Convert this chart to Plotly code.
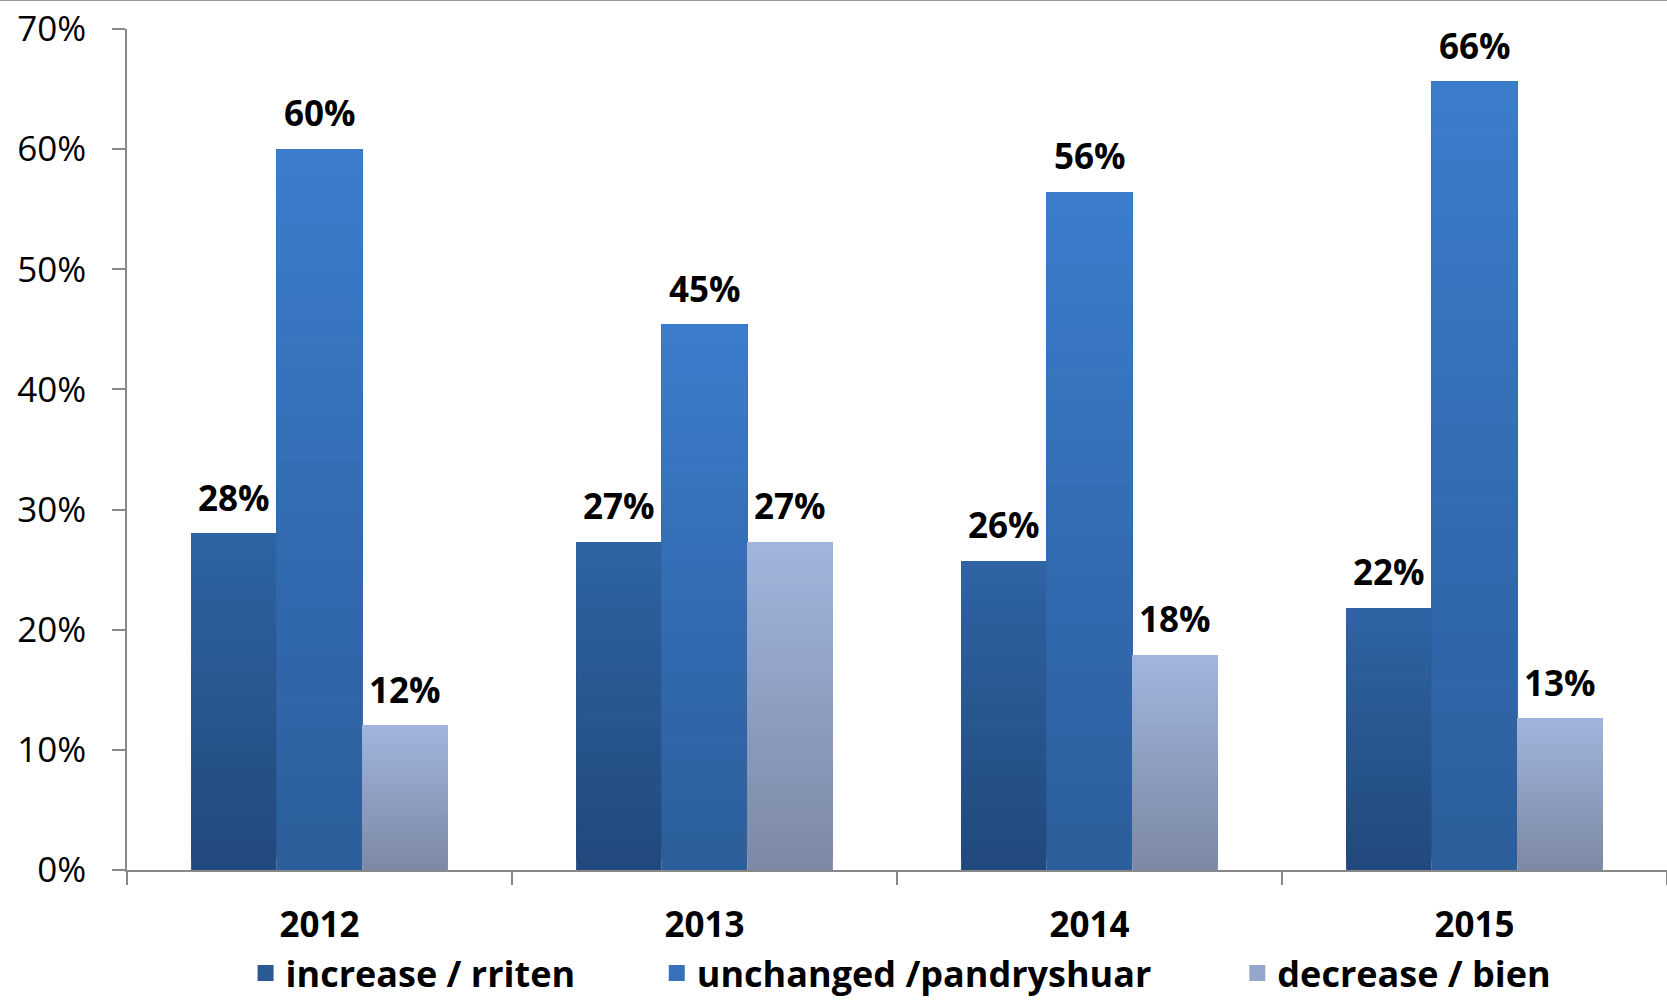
import plotly.graph_objects as go

years = ["2012", "2013", "2014", "2015"]
increase = [28.0, 27.3, 25.7, 21.8]
unchanged = [60.0, 45.4, 56.4, 65.6]
decrease = [12.0, 27.3, 17.9, 12.6]
series_names = ["increase / rriten", "unchanged /pandryshuar", "decrease / bien"]
y_ticks = [0, 10, 20, 30, 40, 50, 60, 70]

series = [increase, unchanged, decrease]
# top / bottom colour of the vertical gradient in each bar
grad = [
    ((47, 99, 164), (33, 73, 124)),
    ((59, 125, 204), (44, 93, 155)),
    ((161, 181, 221), (124, 136, 165)),
]
legend_colors = ["#2b5a97", "#3671ba", "#94a6cc"]
legend_x = [0.077, 0.344, 0.721]

FONT = "Open Sans"
W, H = 1667, 1000
ML, MR, MT, MB = 127, 0, 29, 130
BARGAP = 0.333
STEPS = 30


def mix(top, bottom, t):
    c = [round(b + (a - b) * t) for a, b in zip(top, bottom)]
    return f"rgb({c[0]},{c[1]},{c[2]})"


fig = go.Figure()

# gradient fill: overlapping slices, each one running from its base up to the bar top
for j, vals in enumerate(series):
    top, bottom = grad[j]
    for k in range(STEPS):
        fig.add_trace(go.Bar(
            x=years,
            y=[v * (STEPS - k) / STEPS for v in vals],
            base=[v * k / STEPS for v in vals],
            offsetgroup=str(j),
            marker=dict(color=mix(top, bottom, (k + 0.5) / STEPS), line=dict(width=0)),
            showlegend=False,
            hoverinfo="skip",
        ))

for j, name in enumerate(series_names):
    fig.add_trace(go.Scatter(
        x=[None], y=[None],
        mode="markers",
        name=name,
        marker=dict(symbol="square", size=22, color=legend_colors[j]),
        legend="legend" if j == 0 else f"legend{j + 1}",
    ))

w = (1 - BARGAP) / len(series)
for j, vals in enumerate(series):
    for i, v in enumerate(vals):
        fig.add_annotation(
            x=i + (j - 1) * w, y=v,
            text=f"{v:.0f}%",
            showarrow=False,
            yanchor="bottom",
            yshift=11,
            font=dict(family=FONT, size=35, color="black", weight="bold"),
        )

fig.add_shape(
    type="line", xref="paper", yref="paper",
    x0=-ML / (W - ML - MR), x1=1,
    y0=1 + (MT - 0.5) / (H - MT - MB), y1=1 + (MT - 0.5) / (H - MT - MB),
    line=dict(color="#999999", width=1),
)

legends = {}
for j in range(3):
    key = "legend" if j == 0 else f"legend{j + 1}"
    legends[key] = dict(
        x=legend_x[j], y=0.027, xanchor="left", yanchor="middle",
        yref="container",
        orientation="h",
        font=dict(family=FONT, size=36, color="black", weight="bold"),
        itemsizing="trace",
        bgcolor="rgba(0,0,0,0)",
    )

fig.update_layout(
    width=W, height=H,
    margin=dict(l=ML, r=MR, t=MT, b=MB, autoexpand=False),
    barmode="group",
    bargap=BARGAP,
    bargroupgap=0,
    plot_bgcolor="white",
    paper_bgcolor="white",
    font=dict(family=FONT, size=35, color="black"),
    showlegend=True,
    **legends,
)

fig.update_xaxes(
    type="category",
    automargin=False,
    showline=True, linecolor="#888888", linewidth=1.5,
    ticks="outside", tickson="boundaries", ticklen=13, tickcolor="#888888", tickwidth=1.5,
    tickfont=dict(family=FONT, size=35, color="black", weight="bold"),
    ticklabelstandoff=23,
)
fig.update_yaxes(
    range=[0, 70],
    automargin=False,
    tickvals=y_ticks,
    ticktext=[f"{t}%" for t in y_ticks],
    showgrid=False, zeroline=False,
    showline=True, linecolor="#888888", linewidth=1.5,
    ticks="outside", ticklen=13, tickcolor="#888888", tickwidth=1.5,
    tickfont=dict(family=FONT, size=35, color="black"),
    ticklabelstandoff=19,
)

fig.write_html(
    "out.html",
    config={"displayModeBar": False},
    post_script="document.body.style.margin='0';document.body.style.overflow='hidden';",
)
